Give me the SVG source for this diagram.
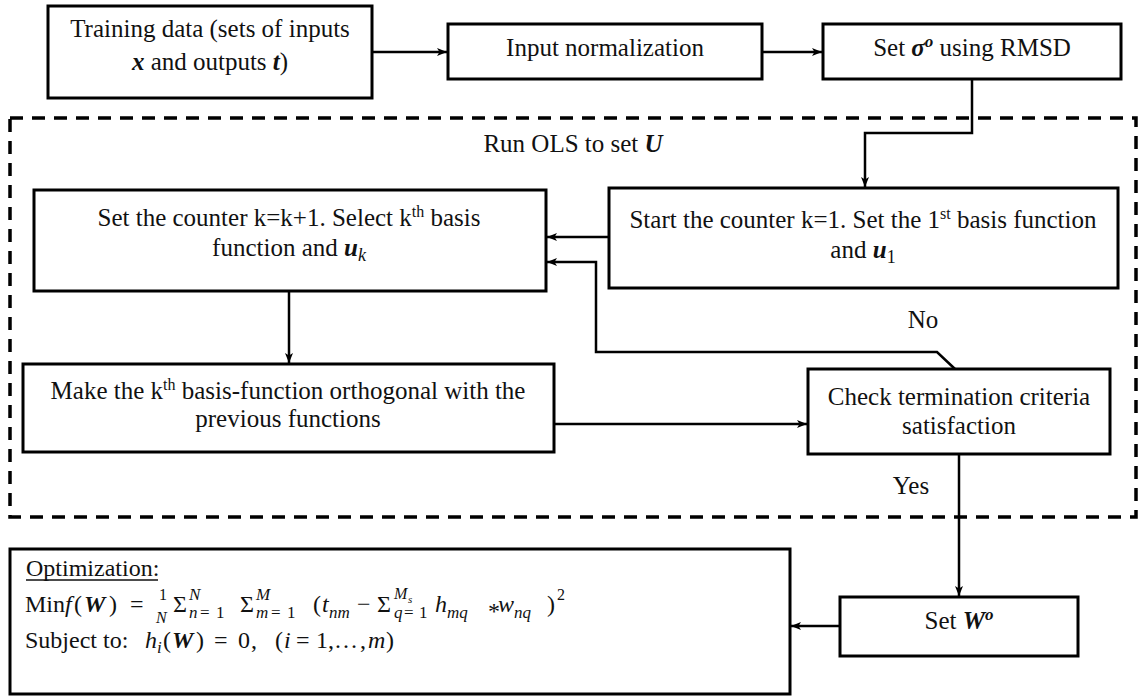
<svg xmlns="http://www.w3.org/2000/svg" width="1138" height="696" viewBox="0 0 1138 696">
  <style>
    .box { fill: #fff; stroke: #000; stroke-width: 3; }
    .t { font-family: 'Liberation Serif', 'Times New Roman', serif; font-size: 25px; fill: #111; text-anchor: middle; }
    .f { font-family: 'Liberation Serif', 'Times New Roman', serif; font-size: 24px; fill: #111; }
    .bi { font-style: italic; font-weight: bold; }
    .i { font-style: italic; }
    .sm { font-size: 17px; }
    .c { fill: none; stroke: #000; stroke-width: 2.5; }
    .dash { fill: none; stroke: #000; stroke-width: 3.5; stroke-dasharray: 13 9; }
  </style>
  <defs>
    <marker id="arrow" viewBox="0 0 10 8" refX="10" refY="4" markerWidth="10" markerHeight="8" markerUnits="userSpaceOnUse" orient="auto">
      <path d="M0,0 L10,4 L0,8 L2.5,4 z" fill="#000"/>
    </marker>
  </defs>
  <rect width="1138" height="696" fill="#fff"/>

  <!-- OLS loop boundary -->
  <g id="ols-region">
    <rect class="dash" x="10" y="118" width="1126" height="399"/>
    <text class="t" x="573" y="152">Run OLS to set <tspan class="bi">U</tspan></text>
  </g>

  <!-- connectors -->
  <g id="connectors">
    <line class="c" x1="372" y1="52" x2="447" y2="52" marker-end="url(#arrow)"/>
    <line class="c" x1="762" y1="52" x2="822" y2="52" marker-end="url(#arrow)"/>
    <polyline class="c" points="972,79 972,133 865,133 865,187" marker-end="url(#arrow)"/>
    <line class="c" x1="609" y1="237" x2="547" y2="237" marker-end="url(#arrow)"/>
    <polyline class="c" points="955,369 937,352 596,352 596,262 547,262" marker-end="url(#arrow)"/>
    <line class="c" x1="289" y1="291" x2="289" y2="363" marker-end="url(#arrow)"/>
    <line class="c" x1="554" y1="424" x2="807" y2="424" marker-end="url(#arrow)"/>
    <line class="c" x1="959" y1="454" x2="959" y2="596" marker-end="url(#arrow)"/>
    <line class="c" x1="840" y1="626" x2="791" y2="626" marker-end="url(#arrow)"/>
    <text class="t" x="923" y="328">No</text>
    <text class="t" x="911" y="494">Yes</text>
  </g>

  <g id="training-data">
    <rect class="box" x="48" y="6" width="324" height="92"/>
    <text class="t" x="210" y="37">Training data (sets of inputs</text>
    <text class="t" x="210" y="70"><tspan class="bi">x</tspan> and outputs <tspan class="bi">t</tspan>)</text>
  </g>

  <g id="input-normalization">
    <rect class="box" x="448" y="24" width="314" height="55"/>
    <text class="t" x="605" y="56">Input normalization</text>
  </g>

  <g id="set-sigma">
    <rect class="box" x="823" y="24" width="298" height="55"/>
    <text class="t" x="972" y="56">Set  <tspan class="bi">σ</tspan><tspan class="bi" font-size="17" dy="-9">o</tspan><tspan dy="9"> using RMSD</tspan></text>
  </g>

  <g id="start-counter">
    <rect class="box" x="609" y="188" width="509" height="100"/>
    <text class="t" x="863" y="228">Start the counter k=1. Set the 1<tspan font-size="16" dy="-9">st</tspan><tspan dy="9"> basis function</tspan></text>
    <text class="t" x="863" y="258">and <tspan class="bi">u</tspan><tspan font-size="18" dy="5">1</tspan></text>
  </g>

  <g id="next-basis">
    <rect class="box" x="34" y="190" width="512" height="101"/>
    <text class="t" x="289" y="226">Set the counter k=k+1.  Select k<tspan font-size="16" dy="-9">th</tspan><tspan dy="9"> basis</tspan></text>
    <text class="t" x="289" y="256">function  and <tspan class="bi">u</tspan><tspan class="i" font-size="18" dy="5">k</tspan></text>
  </g>

  <g id="orthogonalize">
    <rect class="box" x="23" y="364" width="531" height="88"/>
    <text class="t" x="288" y="399">Make the k<tspan font-size="16" dy="-9">th</tspan><tspan dy="9"> basis-function orthogonal  with the</tspan></text>
    <text class="t" x="288" y="427">previous functions</text>
  </g>

  <g id="termination-check">
    <rect class="box" x="808" y="369" width="302" height="85"/>
    <text class="t" x="959" y="405">Check termination criteria</text>
    <text class="t" x="959" y="434">satisfaction</text>
  </g>

  <g id="set-w">
    <rect class="box" x="840" y="597" width="238" height="59"/>
    <text class="t" x="959" y="629">Set <tspan class="bi">W</tspan><tspan class="bi" font-size="17" dy="-9">o</tspan></text>
  </g>

  <g id="optimization">
    <rect class="box" x="10" y="549" width="780" height="145"/>
    <text class="f" x="26" y="576">Optimization:</text>
    <line x1="26" y1="580" x2="158" y2="580" stroke="#111" stroke-width="1.3"/>
    <!-- objective: Min f(W) = 1/N sum_n sum_m (t_nm - sum_q h_mq * w_nq)^2 -->
    <text class="f">
      <tspan x="25" y="612">Min</tspan>
      <tspan class="i" x="65" y="612">f</tspan>
      <tspan x="74" y="612">(</tspan>
      <tspan class="bi" x="84" y="612">W</tspan>
      <tspan x="109" y="612">)</tspan>
      <tspan x="130" y="612">=</tspan>
      <tspan font-size="16" x="159" y="600">1</tspan>
      <tspan class="i" font-size="16" x="156" y="623">N</tspan>
      <tspan x="173" y="612">Σ</tspan>
      <tspan class="sm i" x="189" y="600">N</tspan>
      <tspan class="sm i" x="189" y="618">n</tspan>
      <tspan class="sm" x="200" y="618">=</tspan>
      <tspan class="sm" x="216" y="618">1</tspan>
      <tspan x="240" y="612">Σ</tspan>
      <tspan class="sm i" x="256" y="600">M</tspan>
      <tspan class="sm i" x="256" y="618">m</tspan>
      <tspan class="sm" x="271" y="618">=</tspan>
      <tspan class="sm" x="287" y="618">1</tspan>
      <tspan x="313" y="612">(</tspan>
      <tspan class="i" x="322" y="612">t</tspan>
      <tspan class="sm i" x="329" y="618">nm</tspan>
      <tspan x="357" y="612">−</tspan>
      <tspan x="377" y="612">Σ</tspan>
      <tspan class="i" font-size="16" x="394" y="599">M</tspan>
      <tspan class="i" font-size="11" x="408" y="603">s</tspan>
      <tspan class="sm i" x="394" y="618">q</tspan>
      <tspan class="sm" x="404" y="618">=</tspan>
      <tspan class="sm" x="419" y="618">1</tspan>
      <tspan class="i" x="435" y="612">h</tspan>
      <tspan class="sm i" x="447" y="618">mq</tspan>
      <tspan x="488" y="619">*</tspan>
      <tspan class="i" x="498" y="612">w</tspan>
      <tspan class="sm i" x="514" y="618">nq</tspan>
      <tspan x="547" y="612">)</tspan>
      <tspan font-size="16" x="557" y="600">2</tspan>
    </text>
    <!-- constraint line -->
    <text class="f">
      <tspan x="25" y="648">Subject to:</tspan>
      <tspan class="i" x="145" y="648">h</tspan>
      <tspan class="sm i" x="157" y="653">i</tspan>
      <tspan x="163" y="648">(</tspan>
      <tspan class="bi" x="172" y="648">W</tspan>
      <tspan x="196" y="648">)</tspan>
      <tspan x="214" y="648">=</tspan>
      <tspan x="238" y="648">0</tspan>
      <tspan x="251" y="648">,</tspan>
      <tspan x="275" y="648">(</tspan>
      <tspan class="i" x="284" y="648">i</tspan>
      <tspan x="296" y="648">=</tspan>
      <tspan x="316" y="648">1,</tspan>
      <tspan x="334" y="648">…</tspan>
      <tspan x="360" y="648">,</tspan>
      <tspan class="i" x="368" y="648">m</tspan>
      <tspan x="386" y="648">)</tspan>
    </text>
  </g>
</svg>
